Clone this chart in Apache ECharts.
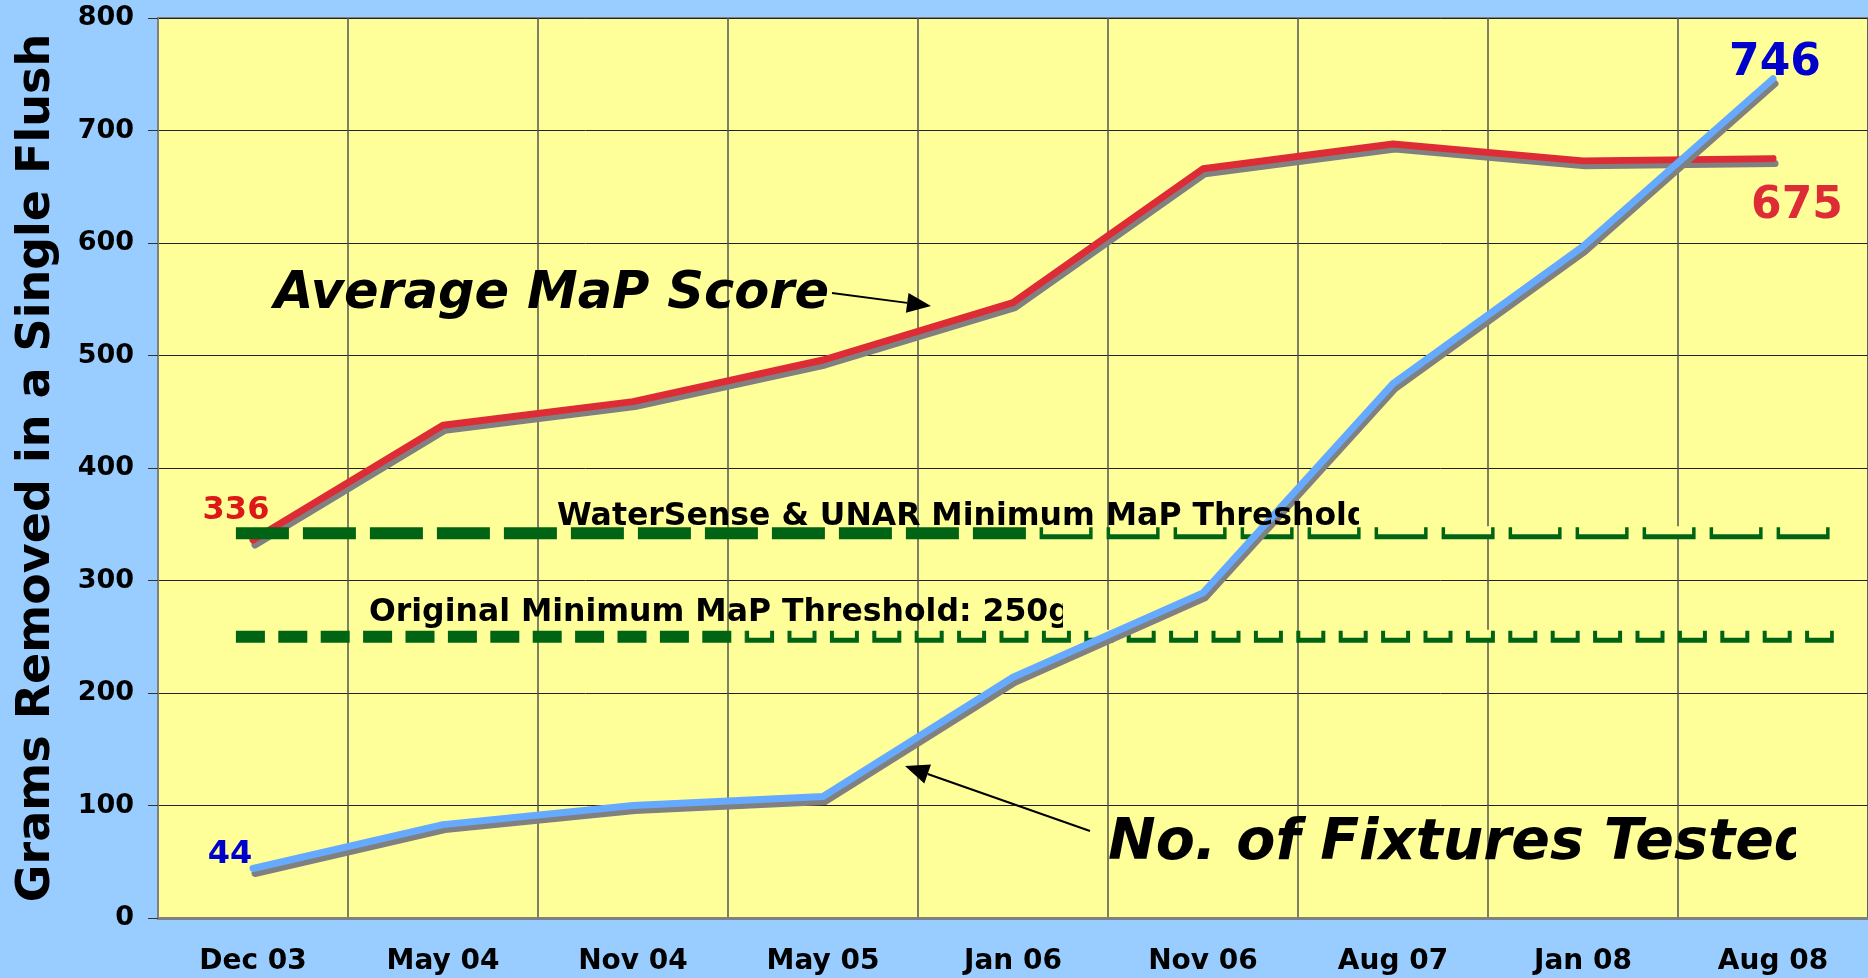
<!DOCTYPE html>
<html>
<head>
<meta charset="utf-8">
<title>Average MaP Score</title>
<script src="https://cdn.jsdelivr.net/npm/echarts@6/dist/echarts.min.js"></script>
<style>
html, body { margin: 0; padding: 0; background: #99CCFF; }
#main { width: 1868px; height: 978px; }
</style>
</head>
<body>
<div id="main"></div>
<script>
// data
var categories = ['Dec 03', 'May 04', 'Nov 04', 'May 05', 'Jan 06', 'Nov 06', 'Aug 07', 'Jan 08', 'Aug 08'];
var mapScore = [336, 438, 459, 496, 547, 666, 688, 673, 675];
var fixtures = [44, 83, 100, 108, 214, 289, 475, 597, 746];
var yMin = 0, yMax = 800, yStep = 100;

// threshold levels, and where the dashed lines start / change / stop
// (x measured in categories, 0 = left edge of plot)
var waterSense = 342;
var originalMin = 250;
var waterSenseX = [0.41, 4.64, 8.80];
var originalX = [0.41, 3.09, 8.82];

var FONT = '"DejaVu Sans", Verdana, sans-serif';
var GREEN = '#006414';
var PLOT = '#FFFF99';

var myChart = echarts.init(document.getElementById('main'));

function lineStyle(color) {
	return {
		width: 7,
		color: color,
		cap: 'round',
		join: 'round',
		shadowColor: '#808080',
		shadowBlur: 0,
		shadowOffsetX: 2,
		shadowOffsetY: 5
	};
}

function endLabel(color, size, offset) {
	return {
		show: true,
		position: 'inside',
		offset: offset,
		color: color,
		fontSize: size,
		fontWeight: 'bold',
		fontFamily: FONT,
		formatter: '{c}'
	};
}

// only first and last point get a value label
function withLabels(values, first, last) {
	return values.map(function (v, i) {
		if (i === 0) return { value: v, label: first };
		if (i === values.length - 1) return { value: v, label: last };
		return v;
	});
}

function dashed(xFrom, xTo, y, color, width, dash, offset) {
	return {
		type: 'line',
		xAxisIndex: 1,
		data: [[xFrom, y], [xTo, y]],
		symbol: 'none',
		silent: true,
		lineStyle: { color: color, width: width, type: dash, dashOffset: offset || 0, cap: 'butt' }
	};
}

// the right part of each threshold line is drawn as hollow "U" dashes
var hole = 3 / 1.125;

function arrow(from, to) {
	var dx = to[0] - from[0], dy = to[1] - from[1];
	var len = Math.sqrt(dx * dx + dy * dy);
	var ux = dx / len, uy = dy / len;
	var bx = to[0] - 24 * ux, by = to[1] - 24 * uy;
	return [{
		type: 'polyline',
		silent: true,
		z: 100,
		shape: { points: [from, [bx, by]] },
		style: { stroke: '#000', lineWidth: 2, fill: null }
	}, {
		type: 'polygon',
		silent: true,
		z: 100,
		shape: { points: [to, [bx - 10 * uy, by + 10 * ux], [bx + 10 * uy, by - 10 * ux]] },
		style: { fill: '#000' }
	}];
}

function note(x, y, text, font) {
	return {
		type: 'text',
		x: x,
		y: y,
		silent: true,
		z: 100,
		style: { text: text, font: font, fill: '#000', align: 'left', verticalAlign: 'middle' }
	};
}

function cover(x, y, w, h) {
	return {
		type: 'rect',
		silent: true,
		z: 101,
		shape: { x: x, y: y, width: w, height: h },
		style: { fill: PLOT }
	};
}

option = {
	animation: false,
	backgroundColor: '#99CCFF',
	grid: {
		left: 158,
		right: 0,
		top: 18,
		bottom: 60,
		show: true,
		backgroundColor: PLOT,
		borderColor: '#808080',
		borderWidth: 2,
		outerBoundsMode: 'none'
	},
	xAxis: [{
		type: 'category',
		data: categories,
		boundaryGap: true,
		axisLine: { lineStyle: { color: '#808080', width: 3 } },
		axisTick: { show: false },
		axisLabel: {
			interval: 0,
			margin: 30,
			color: '#000',
			fontSize: 28,
			fontWeight: 'bold',
			fontFamily: FONT
		},
		splitLine: { show: true, interval: 0, lineStyle: { color: '#555', width: 1.5 } }
	}, {
		type: 'value',
		min: 0,
		max: categories.length,
		show: false
	}],
	yAxis: {
		type: 'value',
		min: yMin,
		max: yMax,
		interval: yStep,
		name: 'Grams Removed in a Single Flush',
		nameLocation: 'middle',
		nameGap: 98,
		nameTextStyle: { color: '#000', fontSize: 46, fontWeight: 'bold', fontFamily: FONT },
		axisLine: { show: true, lineStyle: { color: '#808080', width: 2 } },
		axisTick: { show: true, length: 10, lineStyle: { color: '#333', width: 1 } },
		axisLabel: { margin: 24, color: '#000', fontSize: 27, fontWeight: 'bold', fontFamily: FONT },
		splitLine: { lineStyle: { color: '#222', width: 1 } }
	},
	series: [{
		name: 'Average MaP Score',
		type: 'line',
		data: withLabels(mapScore,
			endLabel('#DD1818', 32, [-17, -29]),
			endLabel('#DD2C36', 44, [24, 48])),
		symbol: 'circle',
		symbolSize: 1,
		itemStyle: { color: 'rgba(0,0,0,0)' },
		silent: true,
		lineStyle: lineStyle('#DD2C36')
	},
		dashed(waterSenseX[0], waterSenseX[1], waterSense, GREEN, 12, [53, 14]),
		dashed(waterSenseX[1], waterSenseX[2], waterSense, GREEN, 12, [53, 14]),
		dashed(waterSenseX[1], waterSenseX[2], waterSense + hole, PLOT, 8, [46, 21], -3.5),
		dashed(originalX[0], originalX[1], originalMin, GREEN, 12, [29, 13.4]),
		dashed(originalX[1], originalX[2], originalMin, GREEN, 12, [29, 13.4]),
		dashed(originalX[1], originalX[2], originalMin + hole, PLOT, 8, [21, 21.4], -4),
	{
		name: 'No. of Fixtures Tested',
		type: 'line',
		data: withLabels(fixtures,
			endLabel('#0000CC', 32, [-23, -14]),
			endLabel('#0000CC', 44, [2, -15])),
		symbol: 'circle',
		symbolSize: 1,
		itemStyle: { color: 'rgba(0,0,0,0)' },
		silent: true,
		lineStyle: lineStyle('#66AAFF')
	}],
	graphic: [
		note(274, 295, 'Average MaP Score', 'italic bold 51px ' + FONT),
		note(1108, 844, 'No. of Fixtures Tested', 'italic bold 57px ' + FONT),
		note(557, 517, 'WaterSense & UNAR Minimum MaP Threshold', 'bold 31.5px ' + FONT),
		note(369, 613, 'Original Minimum MaP Threshold: 250g', 'bold 31.5px ' + FONT)
	].concat(
		arrow([832, 293], [931, 306]),
		arrow([1090, 831], [905, 766]),
		// the text boxes in the original cut their last letter
		[cover(1359, 498, 26, 29), cover(1063, 593, 27, 37), cover(1796, 812, 69, 62)]
	)
};

myChart.setOption(option);
</script>
</body>
</html>
